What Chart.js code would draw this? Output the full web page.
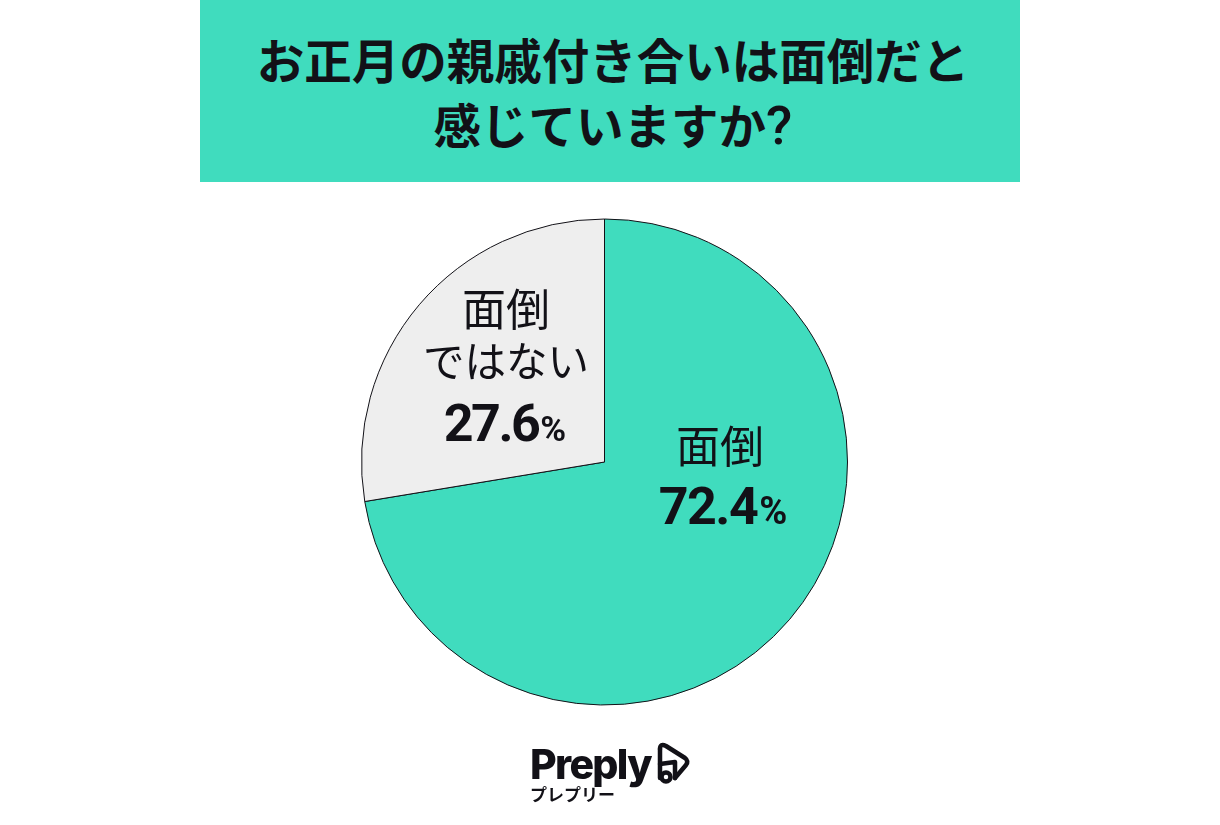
<!DOCTYPE html>
<html><head><meta charset="utf-8">
<style>
html,body{margin:0;padding:0;background:#fff;width:1220px;height:825px;overflow:hidden;font-family:"Noto Sans CJK JP",sans-serif}
#wrap{position:absolute;left:0;top:0;width:1220px;height:825px}
#banner{position:absolute;left:205px;top:0;width:816px;height:182px;color:#121117;font-weight:700;font-size:47.5px;line-height:65px;text-align:center;box-sizing:border-box;padding-top:26px}
#bg{position:absolute;left:200px;top:0;width:820px;height:182px;background:#40dcbe}
#c{position:absolute;left:0;top:0}
.t{position:absolute;text-align:center;color:#121117;white-space:nowrap}
.n{font-size:52px;line-height:62px;font-weight:700;font-family:'Roboto','Noto Sans CJK JP';letter-spacing:-1.5px}
.n span{font-size:38px;letter-spacing:0;margin-left:2px}
</style></head><body>
<div id="wrap">
<div id="bg"></div>
<div id="banner">お正月の親戚付き合いは面倒だと<br>感じていますか<span style="font-family:Roboto;font-weight:500;font-size:54px;line-height:50px">?</span></div>
<canvas id="c" width="1220" height="825"></canvas>
<div class="t" style="left:605px;top:414px;width:230px;font-size:44px;line-height:60px">面倒</div>
<div class="t n" style="left:608px;top:476px;width:230px">72.4<span>%</span></div>
<div class="t" style="left:391px;top:277px;width:230px;font-size:44px;line-height:60px">面倒</div>
<div class="t" style="left:391px;top:329px;width:230px;font-size:41.5px;line-height:60px">ではない</div>
<div class="t n" style="left:390px;top:393px;width:230px;letter-spacing:-2.5px">27.6<span style="font-size:35px">%</span></div>
<div class="t" style="left:530px;top:739px;font-size:41px;line-height:50px;font-weight:800;font-family:'Inter';letter-spacing:-1.7px">Preply</div>
<div class="t" style="left:530px;top:783px;font-size:17px;line-height:22px;font-weight:700">プレプリー</div>
<svg style="position:absolute;left:655px;top:740px" width="38" height="48" viewBox="0 0 38 48" fill="none" stroke="#121117" stroke-width="4.5" stroke-linejoin="round" stroke-linecap="round"><path d="M5 9 Q5 3 11 6 L30 18 Q34 21 31 25 L20 38"/><path d="M5 9 L5 38"/><path d="M5 24 L20 22 L20 38"/><circle cx="11" cy="37" r="4.5"/></svg>
</div>
<script src="https://cdn.jsdelivr.net/npm/chart.js@4"></script>
<script>
const categories=["面倒","面倒ではない"];
const values=[72.4,27.6];
const colors=["#40dcbe","#eeeeee"];
new Chart(document.getElementById("c"),{
 type:"pie",
 data:{labels:categories,datasets:[{data:values,backgroundColor:colors,borderColor:"#121117",borderWidth:1,borderAlign:"center"}]},
 options:{responsive:false,animation:false,devicePixelRatio:1,
  layout:{padding:{left:361,right:372,top:218,bottom:119}},
  plugins:{legend:{display:false},tooltip:{enabled:false},title:{display:false}}}
});
</script>
</body></html>
